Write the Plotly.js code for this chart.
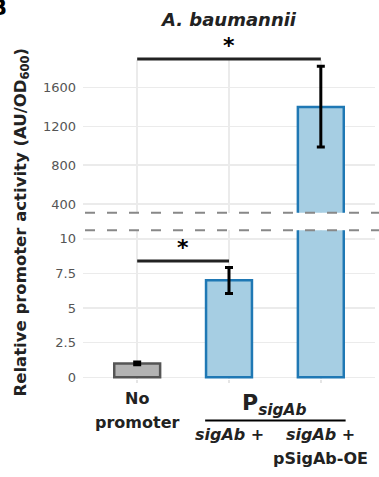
<!DOCTYPE html>
<html>
<head>
<meta charset="utf-8">
<script src="https://cdn.plot.ly/plotly-3.0.1.min.js"></script>
<style>html,body{margin:0;padding:0;background:#fff;}#chart{width:379px;height:477px;}</style>
</head>
<body>
<div id="chart"></div>
<script>
// ---- data ----
const categories = ['No promoter', 'sigAb +', 'sigAb + pSigAb-OE'];
const means = [1.0, 7.02, 1400];
const errPlus = [0.1, 0.91, 420];
const errMinus = [0.1, 0.97, 412];
const lowerTickVals = [0, 2.5, 5, 7.5, 10];
const lowerTickText = ['0', '2.5', '5', '7.5', '10'];
const upperTickVals = [400, 800, 1200, 1600];
const upperTickText = ['400', '800', '1200', '1600'];
const sigFrom = [0, 0];
const sigTo = [1, 2];
const sigValue = [8.4, 1895];
const sigPanel = ['lower', 'upper'];
const sigLabel = ['*', '*'];
const fillColors = ['#b3b3b3', '#a6cee3', '#a6cee3'];
const lineColors = ['#555555', '#1f78b4', '#1f78b4'];

// ---- layout geometry ----
const W = 379, H = 477;
const M = {l: 83, r: 4, t: 60, b: 98};
const lowerDomain = [0, 0.4661];
const upperDomain = [0.5213, 1];
const lowerRange = [-0.123, 10.62];
const upperRange = [310.3, 1884];
const FONT = 'DejaVu Sans, Arial, sans-serif';

function toPaper(v, panel) {
  const d = panel === 'upper' ? upperDomain : lowerDomain;
  const r = panel === 'upper' ? upperRange : lowerRange;
  return d[0] + (v - r[0]) / (r[1] - r[0]) * (d[1] - d[0]);
}
const plotW = W - M.l - M.r, plotH = H - M.t - M.b;
function pxX(px) { return (px - M.l) / plotW; }
function pxY(py) { return (H - M.b - py) / plotH; }

function barTrace(yaxis) {
  return {
    type: 'bar', x: categories, y: means, xaxis: 'x', yaxis: yaxis,
    width: 0.5,
    marker: {color: fillColors, line: {color: lineColors, width: 2.5}},
    error_y: {type: 'data', symmetric: false, array: errPlus, arrayminus: errMinus,
              color: '#000', thickness: 3, width: 4},
    showlegend: false, hoverinfo: 'skip'
  };
}

const data = [barTrace('y'), barTrace('y2')];

const shapes = [];
const annotations = [];
for (let i = 0; i < sigFrom.length; i++) {
  const yp = toPaper(sigValue[i], sigPanel[i]);
  shapes.push({type: 'line', xref: 'x', yref: 'paper', x0: sigFrom[i], x1: sigTo[i], y0: yp, y1: yp,
               line: {color: '#222', width: 3}});
  annotations.push({xref: 'x', yref: 'paper', x: (sigFrom[i] + sigTo[i]) / 2, y: yp, yanchor: 'bottom',
                    yshift: -1, text: '<b>' + sigLabel[i] + '</b>', showarrow: false,
                    font: {family: FONT, size: 22, color: '#000'}});
}
// break markers
[pxY(212.7), pxY(230.3)].forEach(function (yp) {
  shapes.push({type: 'line', xref: 'paper', yref: 'paper', x0: pxX(85), x1: pxX(379), y0: yp, y1: yp,
               line: {color: '#888', width: 2, dash: '10px,12px'}});
});
// group line under P_sigAb
shapes.push({type: 'line', xref: 'x', yref: 'paper', x0: 0.74, x1: 2.27, y0: pxY(420.5), y1: pxY(420.5),
             line: {color: '#000', width: 2}});

const lblFont = {family: FONT, size: 16, color: '#222'};
annotations.push(
  {xref: 'x', yref: 'paper', x: 0, y: pxY(398), yanchor: 'middle', text: '<b>No</b>', showarrow: false, font: lblFont},
  {xref: 'x', yref: 'paper', x: 0, y: pxY(422), yanchor: 'middle', text: '<b>promoter</b>', showarrow: false, font: lblFont},
  {xref: 'x', yref: 'paper', x: 1.5, y: pxY(404), yanchor: 'middle', text: '<b>P<sub><i>sigAb</i></sub></b>', showarrow: false,
   font: {family: FONT, size: 22, color: '#222'}},
  {xref: 'x', yref: 'paper', x: 1, y: pxY(434), yanchor: 'middle', text: '<b><i>sigAb</i> +</b>', showarrow: false, font: lblFont},
  {xref: 'x', yref: 'paper', x: 2, y: pxY(434), yanchor: 'middle', text: '<b><i>sigAb</i> +</b>', showarrow: false, font: lblFont},
  {xref: 'x', yref: 'paper', x: 2, y: pxY(458), yanchor: 'middle', text: '<b>pSigAb-OE</b>', showarrow: false, font: lblFont},
  {xref: 'paper', yref: 'paper', x: pxX(21), y: pxY(222.5), xanchor: 'center', yanchor: 'middle', textangle: -90,
   text: '<b>Relative promoter activity (AU/OD<sub>600</sub>)</b>', showarrow: false,
   font: {family: FONT, size: 16.5, color: '#222'}},
  {xref: 'paper', yref: 'paper', x: pxX(9), y: pxY(8), xanchor: 'right', yanchor: 'middle',
   text: '<b>B</b>', showarrow: false, font: {family: FONT, size: 21, color: '#000'}}
);

const yCommon = {showline: false, zeroline: false, gridcolor: '#ebebeb', gridwidth: 1.5, ticks: '',
                 tickfont: {family: FONT, size: 13, color: '#555'}, ticklabelstandoff: 6, fixedrange: true};

const layout = {
  width: W, height: H, margin: M, paper_bgcolor: '#fff', plot_bgcolor: '#fff',
  title: {text: '<b><i>A. baumannii</i></b>', x: 0.5, xref: 'paper', xanchor: 'center',
          y: 1 - 20 / H, yref: 'container', yanchor: 'middle',
          font: {family: FONT, size: 18, color: '#222'}},
  xaxis: {type: 'category', range: [-0.59, 2.59], showticklabels: false, showline: false, zeroline: false,
          showgrid: true, gridcolor: '#ebebeb', gridwidth: 1.5, ticks: 'outside', ticklen: 3,
          tickcolor: '#e5e5e5', tickwidth: 1.5, anchor: 'y', fixedrange: true},
  yaxis: Object.assign({domain: lowerDomain, range: lowerRange, tickvals: lowerTickVals, ticktext: lowerTickText}, yCommon),
  yaxis2: Object.assign({domain: upperDomain, range: upperRange, tickvals: upperTickVals, ticktext: upperTickText}, yCommon),
  shapes: shapes, annotations: annotations, bargap: 0.5
};

Plotly.newPlot('chart', data, layout, {displayModeBar: false, staticPlot: true});
</script>
</body>
</html>
